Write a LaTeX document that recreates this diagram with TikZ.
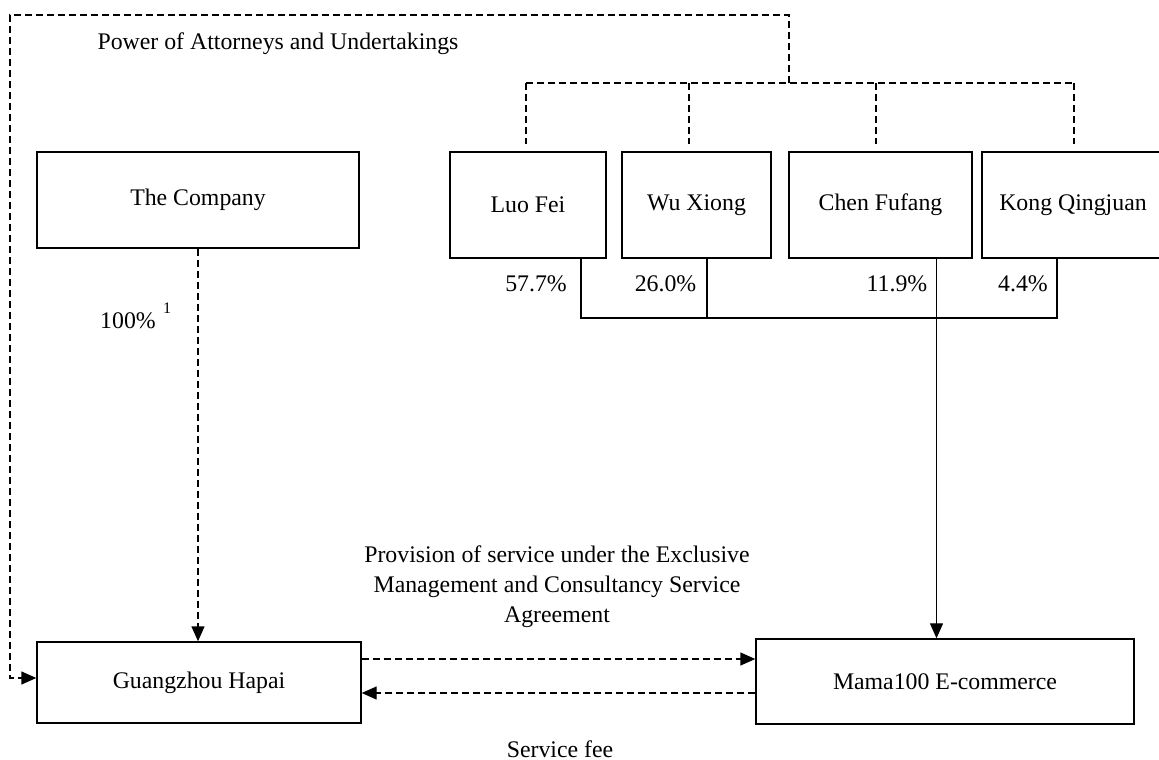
\documentclass[tikz,border=0pt]{standalone}
\usepackage{fontspec}
\setmainfont{Liberation Serif}
\usetikzlibrary{arrows.meta}
\begin{document}
\begin{tikzpicture}[x=1pt,y=-1pt,
  font=\fontsize{23.8}{30}\selectfont,
  line width=1.3pt,
  box/.style={draw, line width=1.4pt, inner sep=0pt},
  lbl/.style={inner sep=0pt},
  dsh/.style={line width=1.4pt, dash pattern=on 7pt off 4pt},
  tip/.style={-{Triangle[width=13pt,length=15pt]}}]
\useasboundingbox (0,0) rectangle (1159,760);
% boxes
\node[box, minimum width=322pt, minimum height=96pt] (company) at (198,200) {The Company};
\node[box, minimum width=156pt, minimum height=106pt] (luo) at (528,205) {Luo Fei};
\node[box, minimum width=149pt, minimum height=106pt] (wu) at (696.5,205) {Wu Xiong};
\node[box, minimum width=183pt, minimum height=106pt] (chen) at (880.5,205) {Chen Fufang};
\node[box, minimum width=182pt, minimum height=106pt] (kong) at (1073,205) {Kong Qingjuan};
\node[box, minimum width=324pt, minimum height=81pt] (gh) at (199,682.5) {Guangzhou Hapai};
\node[box, minimum width=378pt, minimum height=85pt] (mama) at (945,681.5) {Mama100 E-commerce};
% labels
\node[lbl, anchor=base] (poa) at (278,49) {Power of Attorneys and Undertakings};
\node[lbl, anchor=base] (p1) at (536,291) {57.7\%};
\node[lbl, anchor=base] (p2) at (665.5,291) {26.0\%};
\node[lbl, anchor=base] (p3) at (897,291) {11.9\%};
\node[lbl, anchor=base] (p4) at (1023,291) {4.4\%};
\node[lbl, anchor=base] (p100) at (128,328) {100\%};
\node[lbl, anchor=base, font=\fontsize{16}{18}\selectfont] (sup) at (167,313) {1};
\node[lbl, align=center] (prov) at (557,587) {Provision of service under the Exclusive\\Management and Consultancy Service\\Agreement};
\node[lbl, anchor=base] (fee) at (560,757) {Service fee};
% power of attorney dashed lines
\coordinate (bar) at (789,83);
\coordinate (tr) at (789,15);
\coordinate (tl) at (10,15);
\coordinate (bl) at (10,678);
\coordinate (d1) at (526,83);
\coordinate (d2) at (689,83);
\coordinate (d3) at (876,83);
\coordinate (d4) at (1074,83);
\draw[dsh] (d1) -- (d4);
\draw[dsh] (d1) -- (d1 |- 0,144);
\draw[dsh] (d2) -- (d2 |- 0,144);
\draw[dsh] (d3) -- (d3 |- 0,144);
\draw[dsh] (d4) -- (d4 |- 0,144);
\draw[dsh, tip] (bar) -- (tr) -- (tl) -- (bl) -- (bl -| gh.west);
% shareholding
\coordinate (bus) at (0,318);
\draw (luo.south -| 581,0) -- (bus -| 581,0) -- (bus -| 1057,0) -- (kong.south -| 1057,0);
\draw (wu.south -| 707,0) -- (bus -| 707,0);
\draw[tip] (chen.south -| 936.5,0) -- (mama.north -| 936.5,0);
% company to Guangzhou
\draw[dsh, tip] (company.south) -- (company.south |- gh.north);
% service arrows
\draw[dsh, tip] (gh.east |- 0,659) -- (mama.west |- 0,659);
\draw[dsh, tip] (mama.west |- 0,693) -- (gh.east |- 0,693);
\end{tikzpicture}
\end{document}
